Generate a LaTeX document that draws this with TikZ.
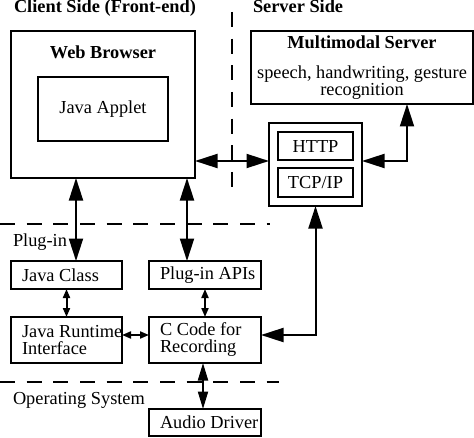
\documentclass[tikz,border=0pt]{standalone}
\usepackage{fontspec}
\setmainfont{Liberation Serif}
\usetikzlibrary{arrows.meta}

\newcommand{\diagfont}{\fontsize{11}{10.2}\selectfont}

\tikzset{
  box/.style     = {draw, rectangle, inner sep=0pt, outer sep=0pt},
  boxtext/.style = {anchor=west, align=left, inner sep=0pt},
  title/.style   = {anchor=base west, inner sep=0pt, font=\diagfont\bfseries},
  layer/.style   = {dash pattern=on 9pt off 7pt},
  bigarrow/.style   = {{Triangle[length=13.5pt,width=8.4pt]}-{Triangle[length=13.5pt,width=8.4pt]}},
  midarrow/.style   = {{Triangle[length=10.5pt,width=6pt]}-{Triangle[length=10.5pt,width=6pt]}},
  smallarrow/.style = {{Triangle[length=5.4pt,width=4.2pt]}-{Triangle[length=5.4pt,width=4.2pt]}},
}

\begin{document}
\begin{tikzpicture}[x=0.6pt, y=-0.6pt, line width=1.2pt, font=\diagfont]
    \useasboundingbox (0,0) rectangle (474,438);

    % sides and layers
    \node[title] (client) at ( 13,13) {Client Side (Front-end)};
    \node[title] (serverside) at (252,13) {Server Side};
    \draw[layer] (232,12) -- (232,190);
    \draw[layer] (0,224) -- (270,224);
    \draw[layer] (0,382) -- (279,382);
    \node[anchor=base west, inner sep=0pt] (pluglayer) at (12,246) {Plug-in};
    \node[anchor=base west, inner sep=0pt] (oslayer)   at (12,404) {Operating System};

    % client side
    \node[box, minimum width=110.4pt, minimum height=88.2pt] (browser) at (103,104.5) {};
    \node[anchor=base, inner sep=0pt, font=\diagfont\bfseries] (browsertitle) at (103,59) {Web Browser};
    \node[box, minimum width=78pt, minimum height=38.4pt] (applet) at (103,109) {Java Applet};

    % server side
    \node[box, minimum width=133.2pt, minimum height=43.8pt] (server) at (362,67.5) {};
    \node[anchor=base, inner sep=0pt, font=\diagfont\bfseries] (servertitle) at (362,49) {Multimodal Server};
    \node[align=center, inner sep=0pt] (servertext) at (362,83) {speech, handwriting, gesture\\recognition};

    \node[box, minimum width=55.8pt, minimum height=49.8pt] (net) at (315.5,164.5) {};
    \node[box, minimum width=45pt, minimum height=16.8pt] (http) at (315.5,146) {HTTP};
    \node[box, minimum width=45pt, minimum height=17.4pt] (tcp)  at (315.5,182.5) {TCP/IP};

    % plug-in
    \node[box, minimum width=66.6pt, minimum height=16.8pt] (javaclass) at (66.5,275) {};
    \node[boxtext] (javaclasstext) at ([xshift=6pt]javaclass.west) {Java Class};
    \node[box, minimum width=67.2pt, minimum height=16.8pt] (apis) at (205,275) {};
    \node[boxtext] (apistext) at ([xshift=6pt]apis.west) {Plug-in APIs};
    \node[box, minimum width=66.6pt, minimum height=27.6pt] (jri) at (66.5,340) {};
    \node[boxtext] (jritext) at ([xshift=6pt]jri.west) {Java Runtime\\Interface};
    \node[box, minimum width=67.2pt, minimum height=27.6pt] (ccode) at (205,340) {};
    \node[boxtext] (ccodetext) at ([xshift=6pt]ccode.west) {C Code for\\Recording};

    % operating system
    \node[box, minimum width=67.2pt, minimum height=16.2pt] (audio) at (205,422.5) {};
    \node[boxtext] (audiotext) at ([xshift=6pt]audio.west) {Audio Driver};

    % connections
    \coordinate (netin) at ([yshift=2.1pt]net.west);
    \coordinate (recout) at ([yshift=3pt]ccode.east);
    \draw[bigarrow] (browser.east |- netin) -- (netin);
    \draw[bigarrow] (net.east |- netin) -| ([xshift=27pt]server.south);
    \draw[bigarrow] ([xshift=5.7pt]javaclass.north) -- ([xshift=5.7pt]javaclass.north |- browser.south);
    \draw[bigarrow] ([xshift=-10.8pt]apis.north) -- ([xshift=-10.8pt]apis.north |- browser.south);
    \draw[bigarrow] (recout) -| (net.south);
    \draw[smallarrow] (javaclass.south) -- (jri.north);
    \draw[smallarrow] (apis.south) -- (ccode.north);
    \draw[smallarrow] (jri.east |- recout) -- (ccode.west |- recout);
    \draw[midarrow] ([xshift=-1.2pt]ccode.south) -- ([xshift=-1.2pt]audio.north);
\end{tikzpicture}
\end{document}
